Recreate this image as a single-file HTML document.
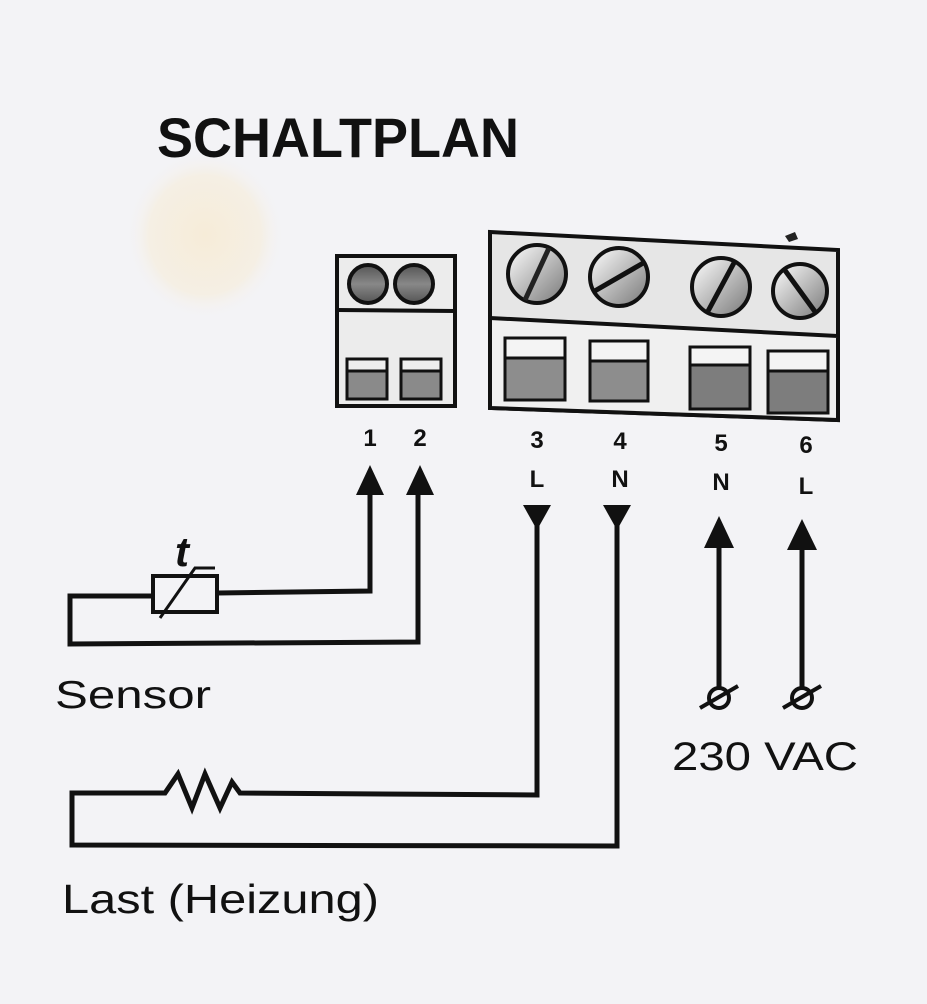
<!DOCTYPE html>
<html><head><meta charset="utf-8"><style>
html,body{margin:0;padding:0;background:#f3f3f6;}
svg{display:block}
text{font-family:"Liberation Sans",Arial,sans-serif;fill:#111}
</style></head><body>
<svg width="927" height="1004" viewBox="0 0 927 1004" xmlns="http://www.w3.org/2000/svg">
<defs>
<radialGradient id="stain" cx="50%" cy="50%" r="50%">
<stop offset="0" stop-color="#f6ecd8"/><stop offset="0.7" stop-color="#f5efe4"/><stop offset="1" stop-color="#f3f3f6" stop-opacity="0"/>
</radialGradient>
<linearGradient id="scr" x1="0" y1="0" x2="1" y2="1"><stop offset="0" stop-color="#fff"/><stop offset="0.5" stop-color="#bbb"/><stop offset="1" stop-color="#777"/></linearGradient>
<linearGradient id="scr2" x1="0" y1="0" x2="0" y2="1"><stop offset="0" stop-color="#555"/><stop offset="0.5" stop-color="#888"/><stop offset="1" stop-color="#555"/></linearGradient>
</defs>
<rect width="927" height="1004" fill="#f3f3f6"/>
<ellipse cx="205" cy="235" rx="80" ry="85" fill="url(#stain)"/>
<text x="157" y="157" font-size="56" font-weight="bold" textLength="362" lengthAdjust="spacingAndGlyphs">SCHALTPLAN</text>
<path d="M785 236 l10 -4 l3 7 l-9 3z" fill="#222"/>

<!-- small block -->
<rect x="337" y="256" width="118" height="150" fill="#ececec" stroke="#111" stroke-width="4"/>
<line x1="337" y1="310" x2="455" y2="311" stroke="#111" stroke-width="4"/>
<circle cx="368" cy="284" r="19" fill="url(#scr2)" stroke="#111" stroke-width="4"/>
<circle cx="414" cy="284" r="19" fill="url(#scr2)" stroke="#111" stroke-width="4"/>
<rect x="347" y="359" width="40" height="40" fill="#8a8a8a" stroke="#111" stroke-width="3"/>
<rect x="347" y="359" width="40" height="12" fill="#eee" stroke="#111" stroke-width="3"/>
<rect x="401" y="359" width="40" height="40" fill="#8a8a8a" stroke="#111" stroke-width="3"/>
<rect x="401" y="359" width="40" height="12" fill="#eee" stroke="#111" stroke-width="3"/>

<!-- large block -->
<path d="M490 232 L838 250 L838 420 L490 408 Z" fill="#e6e6e6" stroke="#111" stroke-width="4"/>
<path d="M490 318 L838 336 L838 420 L490 408 Z" fill="#f0f0f0" stroke="#111" stroke-width="4"/>
<circle cx="537" cy="274" r="29" fill="url(#scr)" stroke="#111" stroke-width="4"/>
<line x1="525" y1="300" x2="549" y2="248" stroke="#222" stroke-width="5"/>
<circle cx="619" cy="277" r="29" fill="url(#scr)" stroke="#111" stroke-width="4"/>
<line x1="593" y1="292" x2="645" y2="262" stroke="#111" stroke-width="5"/>
<circle cx="721" cy="287" r="29" fill="url(#scr)" stroke="#111" stroke-width="4"/>
<line x1="707" y1="313" x2="735" y2="261" stroke="#111" stroke-width="5"/>
<circle cx="800" cy="291" r="27" fill="url(#scr)" stroke="#111" stroke-width="4"/>
<line x1="784" y1="269" x2="816" y2="313" stroke="#111" stroke-width="5"/>
<g stroke="#111" stroke-width="3">
<rect x="505" y="338" width="60" height="62" fill="#8d8d8d"/><rect x="505" y="338" width="60" height="20" fill="#f4f4f4"/>
<rect x="590" y="341" width="58" height="60" fill="#8d8d8d"/><rect x="590" y="341" width="58" height="20" fill="#f4f4f4"/>
<rect x="690" y="347" width="60" height="62" fill="#7d7d7d"/><rect x="690" y="347" width="60" height="18" fill="#f4f4f4"/>
<rect x="768" y="351" width="60" height="62" fill="#7d7d7d"/><rect x="768" y="351" width="60" height="20" fill="#f4f4f4"/>
</g>

<!-- labels -->
<g font-size="24" font-weight="bold" text-anchor="middle">
<text x="370" y="446">1</text><text x="420" y="446">2</text>
<text x="537" y="448" fill="#333">3</text><text x="620" y="449">4</text>
<text x="721" y="451">5</text><text x="806" y="453">6</text>
<text x="537" y="487" fill="#333">L</text><text x="620" y="487">N</text>
<text x="721" y="490">N</text><text x="806" y="494">L</text>
</g>

<g fill="none" stroke="#111" stroke-width="5" stroke-linejoin="miter">
<path d="M370 490 L370 591 L218 593"/>
<path d="M418 490 L418 642 L70 644 L70 596 L153 596"/>
<rect x="153" y="576" width="64" height="36" stroke-width="4"/>
<path d="M160 618 L195 568 L215 568" stroke-width="3"/>
<path d="M537 525 L537 795 L240 793 L232 782 L220 808 L205 774 L192 808 L178 774 L165 793 L72 793 L72 845 L617 846 L617 525"/>
<path d="M719 540 L719 688"/>
<path d="M802 540 L802 688"/>
</g>
<text x="175" y="566" font-size="42" font-style="italic" font-weight="bold" font-family="Liberation Serif">t</text>
<g fill="#111">
<polygon points="370,465 356,495 384,495"/>
<polygon points="420,465 406,495 434,495"/>
<polygon points="523,505 551,505 537,530"/>
<polygon points="603,505 631,505 617,530"/>
<polygon points="719,516 704,548 734,548"/>
<polygon points="802,519 787,550 817,550"/>
</g>
<g fill="none" stroke="#111" stroke-width="4">
<circle cx="719" cy="698" r="10"/><line x1="700" y1="708" x2="738" y2="686"/>
<circle cx="802" cy="698" r="10"/><line x1="783" y1="708" x2="821" y2="686"/>
</g>
<text x="672" y="770" font-size="40" textLength="186" lengthAdjust="spacingAndGlyphs">230 VAC</text>
<text x="55" y="708" font-size="39" textLength="156" lengthAdjust="spacingAndGlyphs">Sensor</text>
<text x="62" y="913" font-size="41" textLength="317" lengthAdjust="spacingAndGlyphs">Last (Heizung)</text>
</svg>
</body></html>
